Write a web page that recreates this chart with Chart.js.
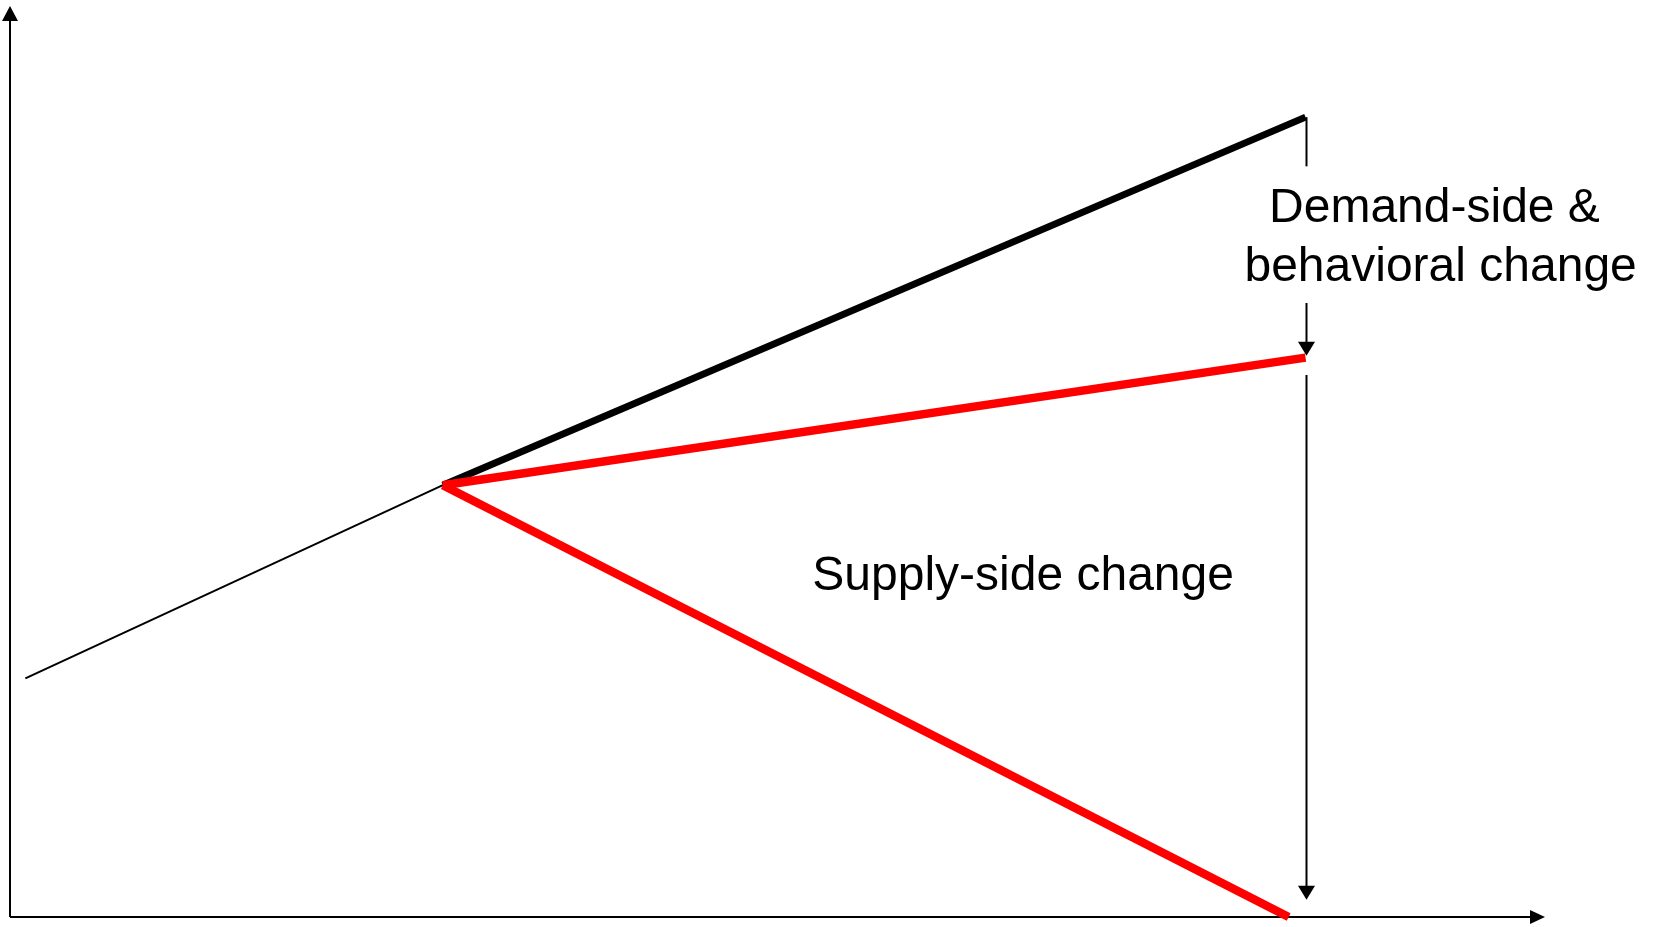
<!DOCTYPE html>
<html>
<head>
<meta charset="utf-8">
<script src="https://cdn.jsdelivr.net/npm/chart.js@4/dist/chart.umd.min.js"></script>
<style>
  html, body { margin: 0; padding: 0; background: #fff; }
  #wrap { width: 1655px; height: 927px; }
</style>
</head>
<body>
<div id="wrap"><canvas id="scenarioChart" width="1655" height="927"></canvas></div>
<script>
// conceptual scenario chart: axes run 0..100 (no ticks shown)
const historic = [{ x: 1, y: 26.2 }, { x: 28.2, y: 47.4 }];
const baseline = [{ x: 28.2, y: 47.4 }, { x: 84.4, y: 87.8 }];
const demandCase = [{ x: 28.2, y: 47.4 }, { x: 84.4, y: 61.4 }];
const supplyCase = [{ x: 28.2, y: 47.4 }, { x: 83.3, y: 0 }];

// vertical arrows at the end year, with gaps left for the labels
const arrowX = 84.4;
const demandSegs = [[87.8, 82.4], [67.4, 61.6]];
const supplySegs = [[59.5, 1.9]];

const labels = [
  { text: 'Demand-side &', x: 92.8, y: 76.3 },
  { text: 'behavioral change', x: 93.2, y: 69.8 },
  { text: 'Supply-side change', x: 66.0, y: 35.9 }
];

function arrowHead(ctx, x, y, dx, dy, len, half) {
  // tip at (x, y), pointing along (dx, dy)
  const px = -dy, py = dx;
  ctx.beginPath();
  ctx.moveTo(x, y);
  ctx.lineTo(x - dx * len + px * half, y - dy * len + py * half);
  ctx.lineTo(x - dx * len - px * half, y - dy * len - py * half);
  ctx.closePath();
  ctx.fill();
}

const axesArrows = {
  id: 'axesArrows',
  beforeDatasetsDraw(chart) {
    const { ctx, chartArea: { left, right, top, bottom } } = chart;
    ctx.save();
    ctx.strokeStyle = '#000';
    ctx.fillStyle = '#000';
    ctx.lineWidth = 2;
    ctx.beginPath();
    ctx.moveTo(left, bottom);
    ctx.lineTo(right - 10, bottom);
    ctx.moveTo(left, bottom);
    ctx.lineTo(left, top + 10);
    ctx.stroke();
    arrowHead(ctx, right, bottom, 1, 0, 15, 7);
    arrowHead(ctx, left, top, 0, -1, 15, 8);
    ctx.restore();
  }
};

const annotations = {
  id: 'annotations',
  afterDatasetsDraw(chart) {
    const { ctx, scales: { x, y } } = chart;
    const px = Math.round(x.getPixelForValue(arrowX)) + 0.5;
    ctx.save();
    ctx.strokeStyle = '#000';
    ctx.fillStyle = '#000';
    ctx.lineWidth = 2;
    [demandSegs, supplySegs].forEach(segs => {
      segs.forEach(([a, b], i) => {
        const ya = y.getPixelForValue(a);
        const yb = y.getPixelForValue(b);
        const last = i === segs.length - 1;
        ctx.beginPath();
        ctx.moveTo(px, ya);
        ctx.lineTo(px, last ? yb - 8 : yb);
        ctx.stroke();
        if (last) arrowHead(ctx, px, yb, 0, 1, 14, 8.5);
      });
    });

    ctx.font = '48px "Liberation Sans", Arial, sans-serif';
    ctx.textAlign = 'center';
    ctx.textBaseline = 'alphabetic';
    labels.forEach(l => {
      ctx.fillText(l.text, x.getPixelForValue(l.x), y.getPixelForValue(l.y));
    });
    ctx.restore();
  }
};

new Chart(
  document.getElementById('scenarioChart'),
  {
    type: 'line',
    plugins: [axesArrows, annotations],
    data: {
      datasets: [
        { data: demandCase, borderColor: '#ff0000', borderWidth: 8.5, borderCapStyle: 'butt', clip: false },
        { data: supplyCase, borderColor: '#ff0000', borderWidth: 8.5, borderCapStyle: 'butt', clip: false },
        { data: baseline, borderColor: '#000', borderWidth: 7, borderCapStyle: 'butt', clip: false },
        { data: historic, borderColor: '#000', borderWidth: 2, clip: false }
      ]
    },
    options: {
      responsive: false,
      animation: false,
      layout: { padding: { left: 10, right: 110, top: 6, bottom: 10 } },
      elements: { point: { radius: 0 }, line: { tension: 0 } },
      scales: {
        x: { type: 'linear', min: 0, max: 100, display: false },
        y: { type: 'linear', min: 0, max: 100, display: false }
      },
      plugins: {
        legend: { display: false },
        tooltip: { enabled: false }
      }
    }
  }
);
</script>
</body>
</html>
